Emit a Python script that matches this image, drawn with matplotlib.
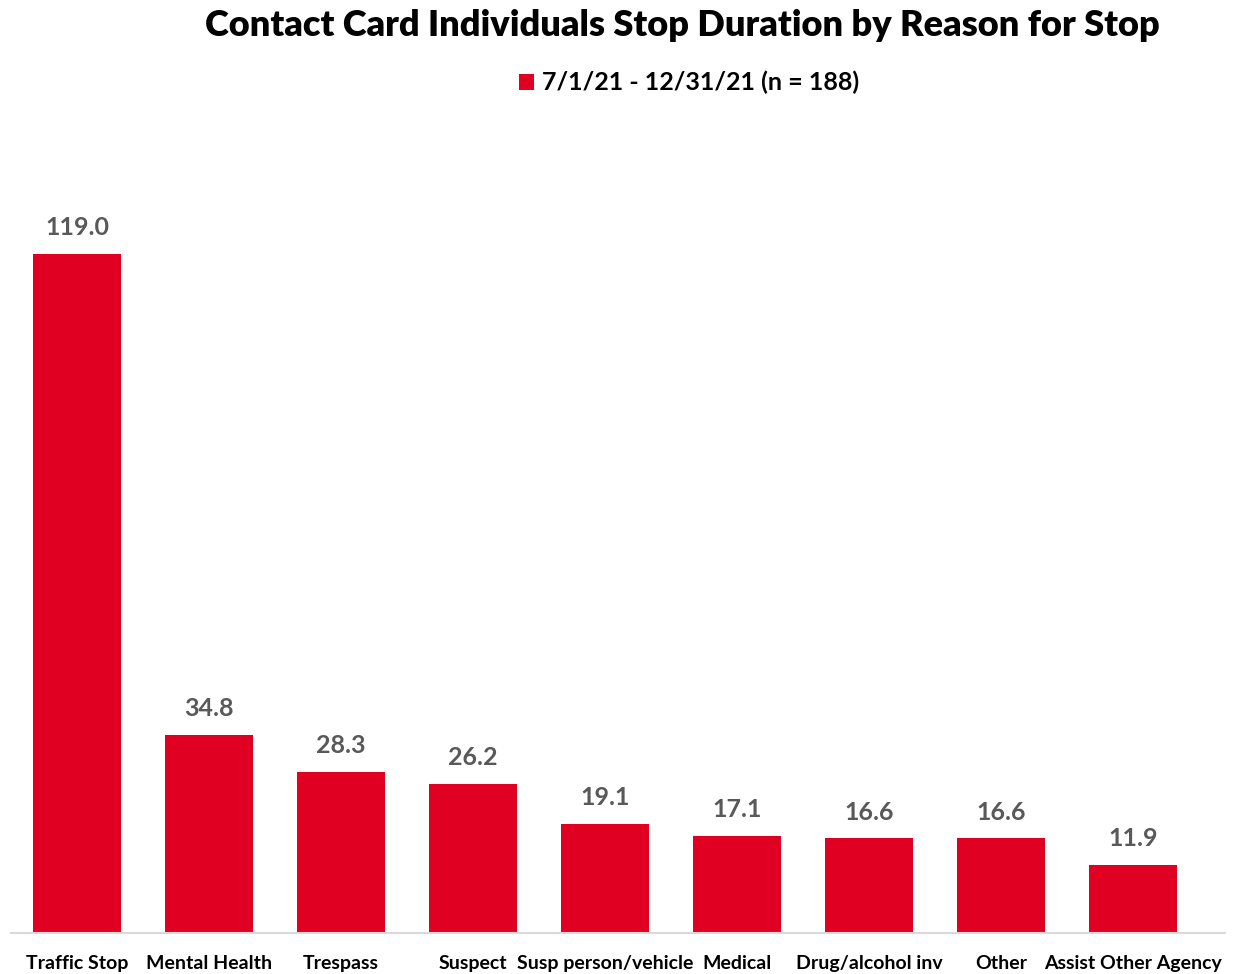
import matplotlib
matplotlib.use('Agg')
import matplotlib.pyplot as plt

plt.rcParams['font.family'] = ['Lato', 'DejaVu Sans']

reasons = ['Traffic Stop', 'Mental Health', 'Trespass', 'Suspect',
           'Susp person/vehicle', 'Medical', 'Drug/alcohol inv', 'Other',
           'Assist Other Agency']
durations = [119.0, 34.8, 28.3, 26.2, 19.1, 17.1, 16.6, 16.6, 11.9]
series_name = '7/1/21 - 12/31/21 (n = 188)'

red = '#E00022'

fig = plt.figure(figsize=(12.39, 9.74), dpi=100)
ax = fig.add_axes([0.009, 0.042, 0.98, 0.82])

x = range(len(reasons))
bars = ax.bar(x, durations, width=0.67, color=red, label=series_name)

for b, v in zip(bars, durations):
    ax.text(b.get_x() + b.get_width() / 2, v + 2.6, '%.1f' % v,
            ha='center', va='bottom', fontsize=18, fontweight='bold',
            color='#595959')

ax.set_xlim(-0.5, 8.7)
ax.set_ylim(0, 140)
ax.set_xticks(list(x))
ax.set_xticklabels(reasons, fontsize=14, fontweight='bold')
ax.tick_params(axis='x', length=0, pad=16)
ax.set_yticks([])
for s in ['top', 'right', 'left']:
    ax.spines[s].set_visible(False)
ax.spines['bottom'].set_color('#D9D9D9')
ax.spines['bottom'].set_linewidth(1.5)

fig.text(0.551, 0.974, 'Contact Card Individuals Stop Duration by Reason for Stop',
         ha='center', va='center', fontsize=26, fontweight='heavy')
fig.legend(loc='center', bbox_to_anchor=(0.556, 0.915), frameon=False,
           handlelength=0.6, handleheight=0.6, handletextpad=0.3,
           prop={'weight': 'bold', 'size': 18})

fig.savefig('out.png', dpi=100, facecolor='white')
